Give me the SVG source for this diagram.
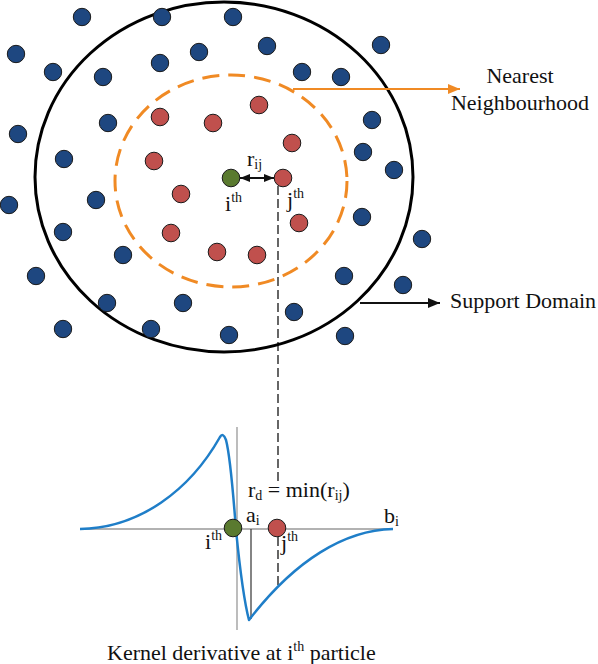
<svg xmlns="http://www.w3.org/2000/svg" width="598" height="664" viewBox="0 0 598 664">
<style>
  text { font-family: "Liberation Serif", "Times New Roman", serif; font-size: 22px; fill: #111; }
  .sm { font-size: 14px; }
  .b { fill: #1e4780; stroke: #1a1a1a; stroke-width: 1; }
  .r { fill: #c0504d; stroke: #1a1a1a; stroke-width: 1; }
  .g { fill: #5a7a2f; stroke: #1a1a1a; stroke-width: 1; }
  .ax { stroke: #999; stroke-width: 1.3; fill: none; }
  .dash { stroke: #000; stroke-width: 1.2; stroke-dasharray: 9 4; }
</style>
<defs>
  <marker id="ao" viewBox="0 0 12 10" refX="12" refY="5" markerWidth="12" markerHeight="10" markerUnits="userSpaceOnUse" orient="auto">
    <path d="M0,0 L12,5 L0,10 Z" fill="#f08a24"/>
  </marker>
  <marker id="ak" viewBox="0 0 12 10" refX="12" refY="5" markerWidth="12" markerHeight="10" markerUnits="userSpaceOnUse" orient="auto">
    <path d="M0,0 L12,5 L0,10 Z" fill="#111"/>
  </marker>
  <marker id="ak2" viewBox="0 0 10 8" refX="10" refY="4" markerWidth="10" markerHeight="8" markerUnits="userSpaceOnUse" orient="auto-start-reverse">
    <path d="M0,0 L10,4 L0,8 Z" fill="#111"/>
  </marker>
</defs>

<g id="support-domain">
  <ellipse cx="224" cy="177" rx="189" ry="175" fill="none" stroke="#000" stroke-width="3"/>
</g>
<g id="nearest-neighbourhood">
  <ellipse cx="231" cy="181" rx="116" ry="106" fill="none" stroke="#f08a24" stroke-width="3" stroke-dasharray="17 9"/>
</g>

<g id="blue-particles">
  <circle class="b" cx="82" cy="17" r="8.7"/>
  <circle class="b" cx="162" cy="17" r="8.7"/>
  <circle class="b" cx="233" cy="17" r="8.7"/>
  <circle class="b" cx="16" cy="54" r="8.7"/>
  <circle class="b" cx="53" cy="72" r="8.7"/>
  <circle class="b" cx="103" cy="77" r="8.7"/>
  <circle class="b" cx="160" cy="63" r="8.7"/>
  <circle class="b" cx="199" cy="52" r="8.7"/>
  <circle class="b" cx="267" cy="46" r="8.7"/>
  <circle class="b" cx="302" cy="72" r="8.7"/>
  <circle class="b" cx="341" cy="77" r="8.7"/>
  <circle class="b" cx="381" cy="45" r="8.7"/>
  <circle class="b" cx="108" cy="123" r="8.7"/>
  <circle class="b" cx="18" cy="134" r="8.7"/>
  <circle class="b" cx="64" cy="159" r="8.7"/>
  <circle class="b" cx="372" cy="120" r="8.7"/>
  <circle class="b" cx="363" cy="152" r="8.7"/>
  <circle class="b" cx="394" cy="170" r="8.7"/>
  <circle class="b" cx="9" cy="205" r="8.7"/>
  <circle class="b" cx="96" cy="200" r="8.7"/>
  <circle class="b" cx="63" cy="232" r="8.7"/>
  <circle class="b" cx="123" cy="255" r="8.7"/>
  <circle class="b" cx="36" cy="276" r="8.7"/>
  <circle class="b" cx="107" cy="303" r="8.7"/>
  <circle class="b" cx="183" cy="303" r="8.7"/>
  <circle class="b" cx="63" cy="329" r="8.7"/>
  <circle class="b" cx="151" cy="329" r="8.7"/>
  <circle class="b" cx="229" cy="335" r="8.7"/>
  <circle class="b" cx="294" cy="312" r="8.7"/>
  <circle class="b" cx="362" cy="217" r="8.7"/>
  <circle class="b" cx="422" cy="239" r="8.7"/>
  <circle class="b" cx="344" cy="276" r="8.7"/>
  <circle class="b" cx="403" cy="285" r="8.7"/>
  <circle class="b" cx="345" cy="336" r="8.7"/>
</g>

<g id="red-particles">
  <circle class="r" cx="160" cy="117" r="8.8"/>
  <circle class="r" cx="213" cy="123" r="8.8"/>
  <circle class="r" cx="259" cy="105" r="8.8"/>
  <circle class="r" cx="292" cy="143" r="8.8"/>
  <circle class="r" cx="154" cy="161" r="8.8"/>
  <circle class="r" cx="181" cy="194" r="8.8"/>
  <circle class="r" cx="171" cy="233" r="8.8"/>
  <circle class="r" cx="217" cy="252" r="8.8"/>
  <circle class="r" cx="257" cy="255" r="8.8"/>
  <circle class="r" cx="299" cy="223" r="8.8"/>
</g>

<g id="connectors">
  <line x1="293" y1="89" x2="460" y2="89" stroke="#f08a24" stroke-width="1.8" marker-end="url(#ao)"/>
  <line x1="360" y1="303" x2="440" y2="303" stroke="#111" stroke-width="1.8" marker-end="url(#ak)"/>
  <line x1="240" y1="178" x2="274" y2="178" stroke="#111" stroke-width="1.8" marker-start="url(#ak2)" marker-end="url(#ak2)"/>
  <line class="dash" x1="278" y1="186" x2="278" y2="482"/>
  <line class="dash" x1="278" y1="537" x2="278" y2="588"/>
</g>

<g id="particle-i">
  <circle class="g" cx="231" cy="178" r="8.8"/>
  <text x="225" y="211">i<tspan class="sm" dy="-9">th</tspan></text>
</g>
<g id="particle-j">
  <circle class="r" cx="283" cy="178" r="8.8"/>
  <text x="287" y="207">j<tspan class="sm" dy="-9">th</tspan></text>
</g>
<g id="label-rij">
  <text x="247" y="166">r<tspan class="sm" dy="3">ij</tspan></text>
</g>
<g id="label-nearest">
  <text x="520" y="83" text-anchor="middle">Nearest</text>
  <text x="520" y="110" text-anchor="middle">Neighbourhood</text>
</g>
<g id="label-support">
  <text x="450" y="308">Support Domain</text>
</g>

<g id="kernel-plot">
  <line class="ax" x1="80" y1="529" x2="393" y2="529"/>
  <line class="ax" x1="237" y1="427" x2="237" y2="630"/>
  <line x1="251" y1="529" x2="251" y2="619" stroke="#333" stroke-width="1.2"/>
  <path d="M80,529 C140,528 190,490 220,437 Q223,432 226,440 C230,455 233,490 236,530 C240,570 245,605 249,620 C295,560 345,530 393,529" fill="none" stroke="#1f7ec8" stroke-width="2.5" stroke-linejoin="round"/>
  <circle class="g" cx="233" cy="528" r="8.8"/>
  <circle class="r" cx="277" cy="528" r="8.8"/>
  <text x="205" y="549">i<tspan class="sm" dy="-9">th</tspan></text>
  <text x="281" y="550">j<tspan class="sm" dy="-9">th</tspan></text>
  <text x="246" y="522">a<tspan class="sm" dy="3">i</tspan></text>
  <text x="384" y="523">b<tspan class="sm" dy="3">i</tspan></text>
  <text x="248" y="497">r<tspan class="sm" dy="3">d</tspan><tspan dy="-3"> = min(r</tspan><tspan class="sm" dy="3">ij</tspan><tspan dy="-3">)</tspan></text>
  <text x="107" y="660">Kernel derivative at i<tspan class="sm" dy="-9">th</tspan><tspan dy="9"> particle</tspan></text>
</g>
</svg>
